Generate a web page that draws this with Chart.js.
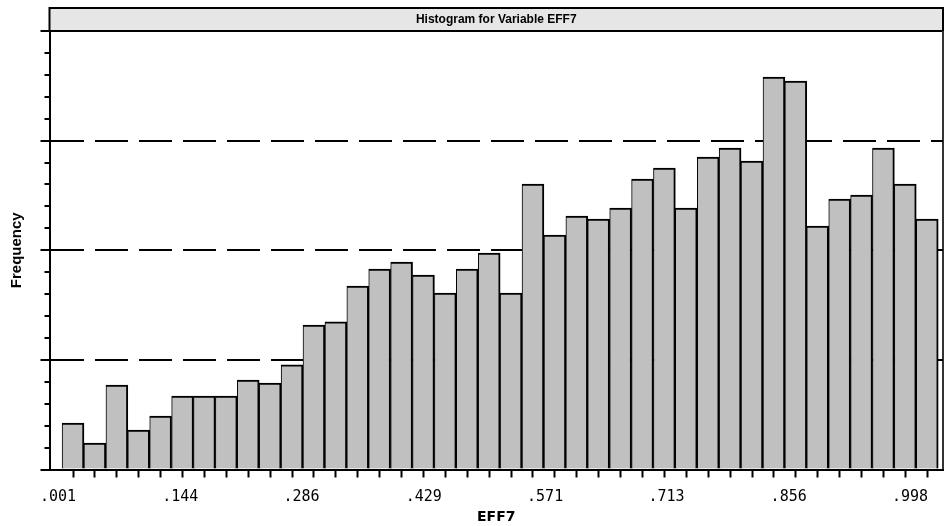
<!DOCTYPE html>
<html><head><meta charset="utf-8">
<script src="https://cdn.jsdelivr.net/npm/chart.js@4"></script>
<style>html,body{margin:0;padding:0;background:#fff}#wrap{width:945px;height:526px;position:relative}</style>
</head><body><div id="wrap"><canvas id="c"></canvas></div>
<script>
// Bin midpoints (EFF7 value at the centre of each histogram bar)
const binMidpoints = [0.0186, 0.0442, 0.0699, 0.0955, 0.1211, 0.1468, 0.1724, 0.1980, 0.2236, 0.2493,
  0.2749, 0.3005, 0.3262, 0.3518, 0.3774, 0.4031, 0.4287, 0.4543, 0.4799, 0.5056,
  0.5312, 0.5568, 0.5825, 0.6081, 0.6337, 0.6594, 0.6850, 0.7106, 0.7362, 0.7619,
  0.7875, 0.8131, 0.8388, 0.8644, 0.8900, 0.9157, 0.9413, 0.9669, 0.9925, 1.0182];
// Frequency per bin (in minor-tick units)
const frequency = [2.12, 1.21, 3.85, 1.80, 2.44, 3.35, 3.35, 3.35, 4.08, 3.94,
  4.77, 6.59, 6.73, 8.37, 9.14, 9.46, 8.87, 8.05, 9.14, 9.87,
  8.05, 13.02, 10.69, 11.56, 11.42, 11.92, 13.25, 13.75, 11.92, 14.25,
  14.66, 14.07, 17.90, 17.72, 11.10, 12.33, 12.52, 14.66, 13.02, 11.42];
const xTickValues = [0.001, 0.144, 0.286, 0.429, 0.571, 0.713, 0.856, 0.998];
const xTickLabels = ['.001', '.144', '.286', '.429', '.571', '.713', '.856', '.998'];
const yMajorTicks = [5, 10, 15];
const chartTitle = 'Histogram for Variable EFF7';
const xTitle = 'EFF7';
const yTitle = 'Frequency';

const X_MIN = -0.00895, X_MAX = 1.0366;

const titleBox = {
  id: 'titleBox',
  beforeDraw(chart) {
    const {ctx, chartArea: a} = chart;
    const tb = chart.titleBlock;
    const top = tb ? tb.top : 8;
    ctx.save();
    ctx.fillStyle = '#fff';
    ctx.fillRect(0, 0, chart.width, chart.height);
    ctx.fillStyle = '#e6e6e6';
    ctx.fillRect(a.left, top, a.right - a.left, a.top - top);
    ctx.strokeStyle = '#000';
    ctx.lineWidth = 2;
    ctx.strokeRect(a.left, top, a.right - a.left, a.top - top);
    ctx.strokeStyle = '#333';
    ctx.beginPath();
    ctx.moveTo(a.right, a.top);
    ctx.lineTo(a.right, a.bottom);
    ctx.stroke();
    ctx.restore();
  }
};

new Chart(document.getElementById('c'), {
  type: 'bar',
  data: {
    datasets: [{
      data: binMidpoints.map((x, i) => ({x: x, y: frequency[i]})),
      backgroundColor: '#c0c0c0',
      borderColor: '#000',
      borderWidth: {top: 2, right: 2, left: 1, bottom: 0},
      barPercentage: 1,
      categoryPercentage: 1
    }]
  },
  options: {
    responsive: true,
    maintainAspectRatio: false,
    animation: false,
    layout: {padding: {top: 8, left: 4, right: 2, bottom: 0}},
    plugins: {
      legend: {display: false},
      tooltip: {enabled: false},
      title: {
        display: true, text: chartTitle, fullSize: false, color: '#000',
        font: {family: 'Liberation Sans', size: 12, weight: 'bold', lineHeight: 1.2},
        padding: {top: 4.3, bottom: 4.3}
      }
    },
    scales: {
      x: {
        type: 'linear', position: 'bottom', min: X_MIN, max: X_MAX, offset: false,
        afterBuildTicks: axis => { axis.ticks = binMidpoints.map(v => ({value: v})); },
        ticks: {display: false, autoSkip: false},
        grid: {offset: false, drawOnChartArea: false, tickLength: 8, tickWidth: 2, tickColor: '#000'},
        border: {display: true, color: '#000', width: 2}
      },
      xLabels: {
        type: 'linear', position: 'bottom', axis: 'x', min: X_MIN, max: X_MAX, offset: false,
        afterBuildTicks: axis => { axis.ticks = xTickValues.map(v => ({value: v})); },
        ticks: {
          autoSkip: false, maxRotation: 0, padding: 11.75, color: '#000',
          font: {family: 'DejaVu Sans Mono', size: 15, lineHeight: 1},
          callback: (v, i) => xTickLabels[i]
        },
        grid: {offset: false, drawOnChartArea: false, drawTicks: false},
        border: {display: false},
        title: {
          display: true, text: xTitle, color: '#000',
          font: {family: 'DejaVu Sans', size: 14, weight: 'bold', lineHeight: 1},
          padding: {top: -6, bottom: 2}
        }
      },
      y: {
        min: 0, max: 20,
        ticks: {display: false, stepSize: 1, maxTicksLimit: 30},
        grid: {
          drawOnChartArea: true,
          color: c => (c.tick && yMajorTicks.includes(c.tick.value)) ? '#000' : 'rgba(0,0,0,0)',
          lineWidth: 2, tickLength: 9, tickWidth: 2, tickColor: '#000',
          tickBorderDash: c => (c.tick && c.tick.value % 5 !== 0) ? [0, 4, 5, 100] : []
        },
        border: {display: true, color: '#000', width: 2, dash: [33, 11]},
        title: {
          display: true, text: yTitle, color: '#000',
          font: {family: 'Liberation Sans', size: 15, weight: 'bold'},
          padding: {top: 4, bottom: 14.5}
        }
      }
    }
  },
  plugins: [titleBox]
});
</script>
</body></html>
